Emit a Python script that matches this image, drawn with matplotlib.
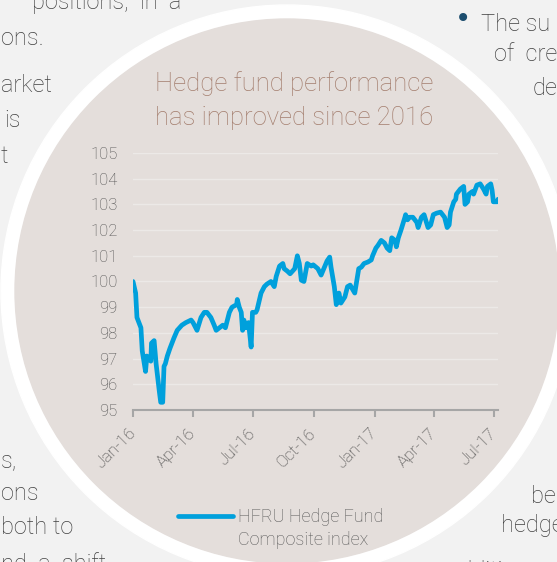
import matplotlib
matplotlib.use("Agg")
import matplotlib.pyplot as plt
import pandas as pd
from matplotlib.patches import Circle
from matplotlib.lines import Line2D

# HFRU Hedge Fund Composite index (rebased)
dates = [
    "2016-01-01", "2016-01-05", "2016-01-07", "2016-01-13", "2016-01-15", "2016-01-20",
    "2016-01-22", "2016-01-28", "2016-01-29", "2016-02-02", "2016-02-05", "2016-02-10",
    "2016-02-12", "2016-02-15", "2016-02-17", "2016-02-19", "2016-02-22", "2016-02-26",
    "2016-03-03", "2016-03-08", "2016-03-15", "2016-03-21", "2016-03-29", "2016-04-01",
    "2016-04-07", "2016-04-13", "2016-04-18", "2016-04-22", "2016-04-28", "2016-05-03",
    "2016-05-06", "2016-05-11", "2016-05-16", "2016-05-20", "2016-05-26", "2016-05-30",
    "2016-06-06", "2016-06-07", "2016-06-10", "2016-06-13", "2016-06-15", "2016-06-17",
    "2016-06-20", "2016-06-24", "2016-06-28", "2016-06-30", "2016-07-05", "2016-07-07",
    "2016-07-13", "2016-07-18", "2016-07-22", "2016-07-28", "2016-08-02", "2016-08-05",
    "2016-08-10", "2016-08-15", "2016-08-17", "2016-08-22", "2016-08-26", "2016-09-02",
    "2016-09-06", "2016-09-09", "2016-09-12", "2016-09-16", "2016-09-21", "2016-09-27",
    "2016-09-30", "2016-10-07", "2016-10-12", "2016-10-17", "2016-10-21", "2016-10-25",
    "2016-10-27", "2016-11-01", "2016-11-04", "2016-11-08", "2016-11-11", "2016-11-17",
    "2016-11-21", "2016-11-25", "2016-12-02", "2016-12-08", "2016-12-12", "2016-12-16",
    "2016-12-22", "2016-12-27", "2016-12-29", "2017-01-03", "2017-01-06", "2017-01-11",
    "2017-01-16", "2017-01-20", "2017-01-24", "2017-01-27", "2017-02-01", "2017-02-03",
    "2017-02-06", "2017-02-10", "2017-02-16", "2017-02-17", "2017-02-20", "2017-02-23",
    "2017-02-28", "2017-03-06", "2017-03-08", "2017-03-13", "2017-03-17", "2017-03-23",
    "2017-03-27", "2017-03-31", "2017-04-05", "2017-04-11", "2017-04-17", "2017-04-21",
    "2017-04-24", "2017-04-26", "2017-05-01", "2017-05-04", "2017-05-05", "2017-05-08",
    "2017-05-11", "2017-05-16", "2017-05-18", "2017-05-22", "2017-05-24", "2017-05-29",
    "2017-05-31", "2017-06-05", "2017-06-10", "2017-06-15", "2017-06-19", "2017-06-21",
    "2017-06-26", "2017-06-28", "2017-06-30", "2017-07-06", "2017-07-07",
]
values = [
    100.0, 99.55, 98.6, 98.2, 97.3, 96.5,
    97.1, 96.9, 97.6, 97.7, 96.8, 95.7,
    95.3, 95.3, 96.7, 96.8, 97.1, 97.4,
    97.8, 98.1, 98.3, 98.4, 98.5, 98.4,
    98.1, 98.6, 98.8, 98.8, 98.6, 98.3,
    98.1, 98.2, 98.3, 98.2, 98.8, 99.0,
    99.1, 99.3, 99.0, 98.8, 98.1, 98.5,
    98.2, 98.4, 97.45, 98.8, 98.8, 98.9,
    99.55, 99.8, 99.9, 100.0, 99.8, 100.2,
    100.6, 100.7, 100.5, 100.4, 100.3, 100.5,
    101.0, 100.7, 100.05, 100.0, 100.7, 100.6,
    100.65, 100.5, 100.25, 100.56, 100.8, 100.95,
    100.56, 99.8, 99.1, 99.55, 99.16, 99.4,
    99.8, 99.86, 99.55, 100.5, 100.56, 100.7,
    100.76, 100.84, 101.0, 101.3, 101.4, 101.6,
    101.5, 101.3, 101.2, 101.7, 101.6, 101.35,
    101.7, 102.0, 102.5, 102.6, 102.4, 102.5,
    102.5, 102.3, 102.1, 102.5, 102.6, 102.1,
    102.2, 102.6, 102.66, 102.7, 102.5, 102.1,
    102.2, 102.7, 103.1, 103.2, 103.4, 103.5,
    103.6, 103.7, 103.0, 103.1, 103.4, 103.5,
    103.4, 103.75, 103.8, 103.6, 103.4, 103.7,
    103.8, 103.56, 103.1, 103.1, 103.2,
]

x_ticks = ["2016-01-01", "2016-04-01", "2016-07-01", "2016-10-01",
           "2017-01-01", "2017-04-01", "2017-07-01"]
x_tick_labels = ["Jan-16", "Apr-16", "Jul-16", "Oct-16", "Jan-17", "Apr-17", "Jul-17"]
y_ticks = list(range(95, 106))
title_lines = ["Hedge fund performance", "has improved since 2016"]
series_label = ["HFRU Hedge Fund", "Composite index"]

# bits of the surrounding page text that show round the circle
page_left_edge = [("ons.", 45), ("arket", 92), ("t", 163), ("s,", 467),
                  ("ons", 500), ("both to", 534), ("nd  a  shift", 571)]
page_left = [("positions,  in  a", 181, 9), ("is", 21, 127)]
page_right = [("The su", 481, 31), ("of  cre", 494, 61), ("de", 533, 95),
              ("be", 531, 503), ("hedge", 501, 532), ("additi", 447, 578)]

plt.rcParams["font.family"] = ["Roboto", "DejaVu Sans"]
plt.rcParams["font.weight"] = "light"

W, H = 557, 562
fig = plt.figure(figsize=(W / 100, H / 100), dpi=100)
fig.patch.set_facecolor("#f2f2f2")

# background layer in pixel units (y down)
bg = fig.add_axes([0, 0, 1, 1])
bg.set_xlim(0, W)
bg.set_ylim(H, 0)
bg.axis("off")
bg.add_patch(Circle((287, 291), 286, color="white", zorder=1))
bg.add_patch(Circle((287, 291), 272, color="#e4dedb", zorder=2))

page_style = dict(va="baseline", fontsize=17, color="#404040", zorder=0.5)
for s, y in page_left_edge:
    bg.text(1, y, s, ha="left", **page_style)
for s, x, y in page_left:
    bg.text(x, y, s, ha="right", **page_style)
for s, x, y in page_right:
    bg.text(x, y, s, ha="left", **page_style)
bg.text(463, 19, "\u2022", ha="center", va="center", fontsize=20, color="#1d4e6f",
        family=["DejaVu Sans"], weight="normal", zorder=0.5)

bg.text(294, 91, title_lines[0], ha="center", va="baseline", fontsize=18.5, color="#a47e6e", zorder=3)
bg.text(294, 125, title_lines[1], ha="center", va="baseline", fontsize=18.5, color="#a47e6e", zorder=3)

# chart
ax = fig.add_axes([133 / W, 1 - 410 / H, (498 - 133) / W, (410 - 153) / H])
ax.set_facecolor("none")
line, = ax.plot(pd.to_datetime(dates), values, color="#00a0dc", lw=3.4,
                solid_joinstyle="round", solid_capstyle="round")
ax.set_ylim(95, 105)
ax.set_yticks(y_ticks)
ax.set_xlim(pd.Timestamp("2016-01-01"), pd.Timestamp("2017-07-07"))
ax.set_xticks(pd.to_datetime(x_ticks))
ax.set_xticklabels(x_tick_labels, rotation=45, ha="right", va="center", rotation_mode="anchor")
ax.yaxis.grid(True, color="#ece9e7", lw=1)
ax.set_axisbelow(True)
for side in ["top", "right", "left"]:
    ax.spines[side].set_visible(False)
ax.spines["bottom"].set_color("#a6a6a6")
ax.spines["bottom"].set_linewidth(1.5)
ax.tick_params(axis="y", length=0, pad=11, labelsize=12, labelcolor="#505050")
ax.tick_params(axis="x", length=5, width=1.5, color="#a6a6a6", direction="out", pad=10,
               labelsize=12, labelcolor="#404040")

# two-row legend: the line sits on the first row only
blank = Line2D([], [], color="none")
ax.legend(handles=[line, blank], labels=series_label, loc="upper left",
          bbox_to_anchor=(178 / W, 1 - 508 / H), bbox_transform=fig.transFigure,
          frameon=False, fontsize=13, labelcolor="#595959", handlelength=3.05,
          handletextpad=0.25, labelspacing=0.25, borderpad=0, borderaxespad=0)

fig.savefig("out.png", dpi=100, facecolor=fig.get_facecolor())
